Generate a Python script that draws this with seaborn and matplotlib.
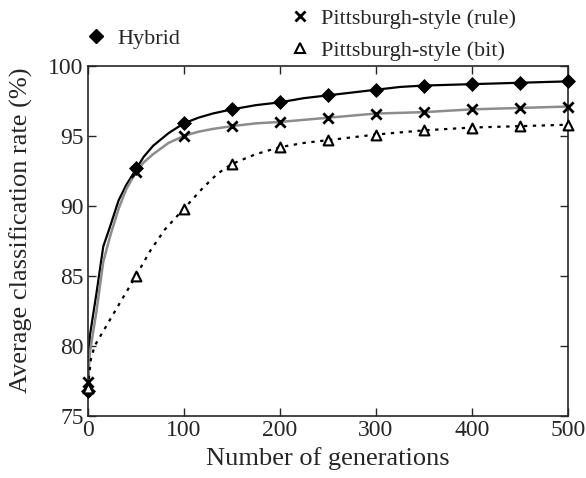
import numpy as np
import pandas as pd
import matplotlib
matplotlib.use("Agg")
import matplotlib.pyplot as plt
from matplotlib.lines import Line2D
import seaborn as sns

# marker points (every 50 generations)
gens = [0, 50, 100, 150, 200, 250, 300, 350, 400, 450, 500]
hybrid = [76.8, 92.7, 95.9, 96.9, 97.4, 97.9, 98.3, 98.6, 98.7, 98.8, 98.9]
pitt_rule = [77.4, 92.4, 95.0, 95.7, 96.0, 96.3, 96.6, 96.7, 96.9, 97.0, 97.1]
pitt_bit = [77.0, 85.0, 89.8, 93.0, 94.2, 94.7, 95.1, 95.4, 95.6, 95.7, 95.8]

# curve points
hyb_x = [0, 2, 9, 16, 23, 32, 40, 50, 58, 68, 84, 100, 115, 130, 150, 175, 200,
         225, 250, 275, 300, 325, 350, 375, 400, 425, 450, 475, 500]
hyb_y = [76.8, 80.7, 83.8, 87.1, 88.5, 90.4, 91.5, 92.6, 93.5, 94.3, 95.2, 95.9,
         96.3, 96.6, 96.9, 97.2, 97.4, 97.7, 97.9, 98.1, 98.3, 98.5, 98.6, 98.65,
         98.7, 98.75, 98.8, 98.85, 98.9]
rule_x = [0, 2, 9, 16, 23, 32, 40, 50, 58, 68, 84, 100, 115, 130, 150, 175, 200,
          225, 250, 275, 300, 325, 350, 375, 400, 425, 450, 475, 500]
rule_y = [77.4, 79.5, 82.5, 86.0, 87.8, 89.8, 91.2, 92.4, 93.1, 93.7, 94.5, 95.0,
          95.3, 95.5, 95.7, 95.9, 96.0, 96.15, 96.3, 96.45, 96.6, 96.65, 96.7, 96.8,
          96.9, 96.95, 97.0, 97.05, 97.1]
bit_x = [0, 3, 7, 31, 50, 65, 80, 100, 120, 135, 150, 175, 200, 225, 250, 275, 300,
         325, 350, 375, 400, 425, 450, 475, 500]
bit_y = [77.0, 79.0, 80.0, 82.8, 85.0, 86.8, 88.3, 89.8, 91.3, 92.3, 93.0, 93.7,
         94.2, 94.5, 94.7, 94.9, 95.1, 95.25, 95.4, 95.5, 95.6, 95.65, 95.7, 95.75, 95.8]

sns.set_style("ticks")
plt.rcParams['font.family'] = ['Liberation Serif', 'DejaVu Serif']

fig = plt.figure(figsize=(5.86, 4.78), dpi=100)
ax = fig.add_axes([0.150, 0.130, 0.819, 0.732])

# lines
sns.lineplot(x=hyb_x, y=hyb_y, ax=ax, color="black", linewidth=1.6, estimator=None)
sns.lineplot(x=rule_x, y=rule_y, ax=ax, color="#8c8c8c", linewidth=1.8, estimator=None)
sns.lineplot(x=bit_x, y=bit_y, ax=ax, color="black", linewidth=1.6,
             linestyle=(0, (1.5, 2.5)), estimator=None)

# markers
sns.scatterplot(x=gens, y=hybrid, ax=ax, marker="D", s=50, color="black",
                edgecolor="black", zorder=5, clip_on=False)
sns.scatterplot(x=gens, y=pitt_rule, ax=ax, marker="x", s=55, color="black",
                linewidth=2, zorder=5, clip_on=False)
sns.scatterplot(x=gens, y=pitt_bit, ax=ax, marker="^", s=50, facecolor="white",
                edgecolor="black", linewidth=1.5, zorder=5, clip_on=False)

ax.set_xlim(0, 500)
ax.set_ylim(75, 100)
ax.set_xticks([0, 100, 200, 300, 400, 500])
ax.set_yticks([75, 80, 85, 90, 95, 100])
ax.tick_params(direction="in", length=6, width=1, labelsize=17, top=True, right=True,
               pad=3)
for sp in ax.spines.values():
    sp.set_linewidth(1.2)
    sp.set_visible(True)
ax.set_xlabel("Number of generations", fontsize=19, labelpad=4)
ax.set_ylabel("Average classification rate (%)", fontsize=19)
ax.yaxis.set_label_coords(-0.115, 0.53)

# legends (markers only), outside above the axes
h1 = [Line2D([], [], marker="D", color="black", linestyle="none", markersize=7)]
fig.legend(h1, ["Hybrid"], loc="center left", bbox_to_anchor=(0.102, 0.920),
           frameon=False, fontsize=16, handletextpad=0.2, handlelength=1.5)
h2 = [Line2D([], [], marker="x", color="black", linestyle="none", markersize=7,
             markeredgewidth=2),
      Line2D([], [], marker="^", color="black", markerfacecolor="white",
             linestyle="none", markersize=7, markeredgewidth=1.5)]
fig.legend(h2, ["Pittsburgh-style (rule)", "Pittsburgh-style (bit)"], loc="center left",
           bbox_to_anchor=(0.45, 0.928), frameon=False, fontsize=16,
           handletextpad=0.2, handlelength=1.5, labelspacing=0.5)

fig.savefig("out.png", dpi=100)
